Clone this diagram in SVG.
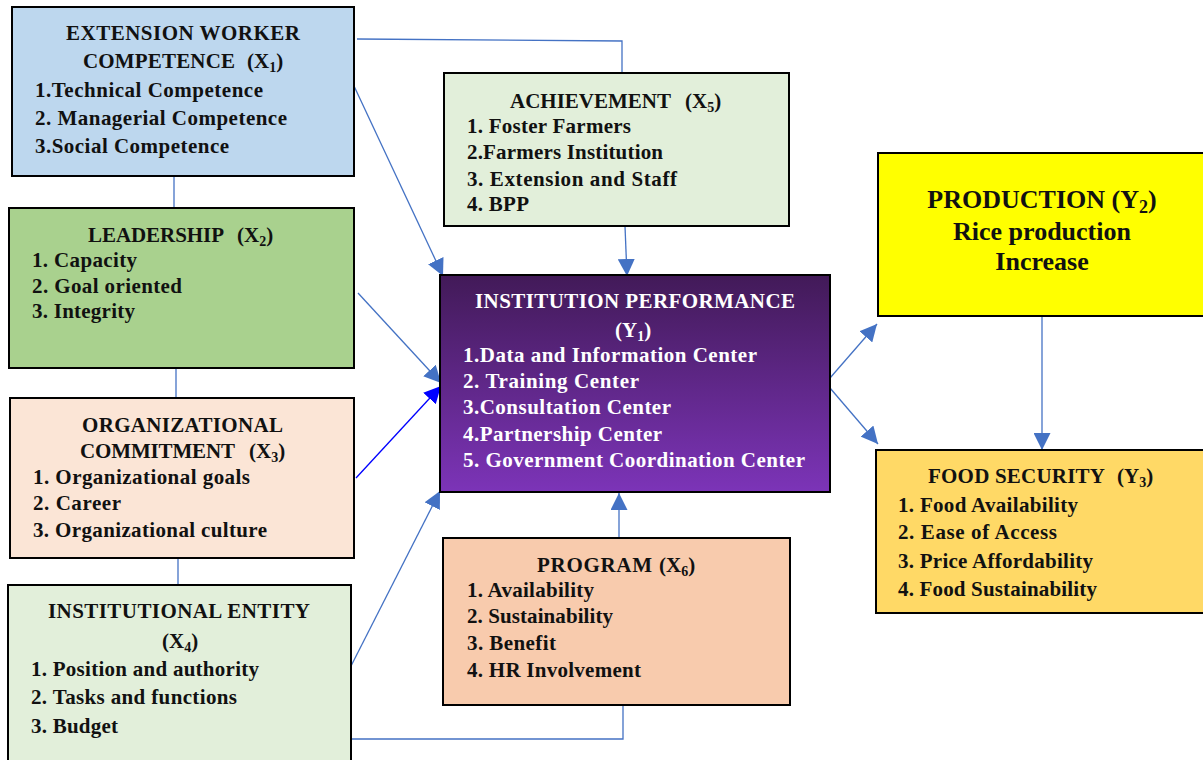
<svg xmlns="http://www.w3.org/2000/svg" width="1203" height="760" viewBox="0 0 1203 760">
<style>
.box{stroke:#000;stroke-width:2}
text{font-family:"Liberation Serif","Times New Roman",serif;font-weight:bold;font-size:21px;fill:#111}
.t{text-anchor:middle}
.w{fill:#fff}
.big{font-size:26px}
.c{fill:none;stroke:#4472C4;stroke-width:1.3}
.cb{fill:none;stroke:#0000FF;stroke-width:1.3}
</style>
<defs>
<marker id="ah2" viewBox="0 0 10 10" refX="10" refY="5" markerWidth="17" markerHeight="17" markerUnits="userSpaceOnUse" orient="auto"><path d="M0,0 L10,5 L0,10 z" fill="#4472C4"/></marker>
<marker id="ahb" viewBox="0 0 10 10" refX="10" refY="5" markerWidth="17" markerHeight="17" markerUnits="userSpaceOnUse" orient="auto"><path d="M0,0 L10,5 L0,10 z" fill="#0000FF"/></marker>
<linearGradient id="pg" x1="0" y1="0" x2="0" y2="1"><stop offset="0" stop-color="#421A58"/><stop offset="1" stop-color="#7C34B8"/></linearGradient>
</defs>
<g id="connectors">
<polyline class="c" points="357,39 622,41 622,73"/>
<line class="c" x1="354" y1="86" x2="443" y2="276" marker-end="url(#ah2)"/>
<line class="c" x1="174" y1="176" x2="174" y2="208"/>
<line class="c" x1="176" y1="368" x2="176" y2="398"/>
<line class="c" x1="178" y1="558" x2="178" y2="585"/>
<line class="c" x1="358" y1="293" x2="441" y2="383" marker-end="url(#ah2)"/>
<line class="cb" x1="356" y1="478" x2="441" y2="386" marker-end="url(#ahb)"/>
<line class="c" x1="350" y1="668" x2="440" y2="491" marker-end="url(#ah2)"/>
<polyline class="c" points="351,739 623,739 623,706"/>
<line class="c" x1="625" y1="226" x2="627" y2="276" marker-end="url(#ah2)"/>
<line class="c" x1="619" y1="538" x2="619" y2="493" marker-end="url(#ah2)"/>
<line class="c" x1="830" y1="378" x2="877" y2="324" marker-end="url(#ah2)"/>
<line class="c" x1="830" y1="388" x2="878" y2="444" marker-end="url(#ah2)"/>
<line class="c" x1="1042" y1="316" x2="1042" y2="450" marker-end="url(#ah2)"/>
</g>
<g id="x1">
<rect class="box" x="12" y="7" width="342" height="169" fill="#BDD7EE"/>
<text x="66" y="40" textLength="234" lengthAdjust="spacing">EXTENSION WORKER</text>
<text x="83" y="68" textLength="152" lengthAdjust="spacing">COMPETENCE</text>
<text x="247" y="68">(X<tspan font-size="14" dy="4">1</tspan><tspan dy="-4">)</tspan></text>
<text x="35" y="97" textLength="228" lengthAdjust="spacing">1.Technical Competence</text>
<text x="35" y="125" textLength="252" lengthAdjust="spacing">2. Managerial Competence</text>
<text x="35" y="153" textLength="194" lengthAdjust="spacing">3.Social Competence</text>
</g>
<g id="x2">
<rect class="box" x="9" y="208" width="345" height="160" fill="#A9D18E"/>
<text x="88" y="242" textLength="136" lengthAdjust="spacing">LEADERSHIP</text>
<text x="237" y="242">(X<tspan font-size="14" dy="4">2</tspan><tspan dy="-4">)</tspan></text>
<text x="32" y="267" textLength="105" lengthAdjust="spacing">1. Capacity</text>
<text x="32" y="293" textLength="150" lengthAdjust="spacing">2. Goal oriented</text>
<text x="32" y="318" textLength="103" lengthAdjust="spacing">3. Integrity</text>
</g>
<g id="x3">
<rect class="box" x="10" y="398" width="344" height="160" fill="#FBE5D6"/>
<text x="82" y="432" textLength="201" lengthAdjust="spacing">ORGANIZATIONAL</text>
<text x="80" y="458" textLength="155" lengthAdjust="spacing">COMMITMENT</text>
<text x="249" y="458">(X<tspan font-size="14" dy="4">3</tspan><tspan dy="-4">)</tspan></text>
<text x="33" y="484" textLength="217" lengthAdjust="spacing">1. Organizational goals</text>
<text x="33" y="510" textLength="88" lengthAdjust="spacing">2. Career</text>
<text x="33" y="537" textLength="234" lengthAdjust="spacing">3. Organizational culture</text>
</g>
<g id="x4">
<rect class="box" x="8" y="585" width="343" height="190" fill="#E2EFDA"/>
<text x="48" y="618" textLength="262" lengthAdjust="spacing">INSTITUTIONAL ENTITY</text>
<text x="162" y="648">(X<tspan font-size="14" dy="4">4</tspan><tspan dy="-4">)</tspan></text>
<text x="31" y="676" textLength="228" lengthAdjust="spacing">1. Position and authority</text>
<text x="31" y="704" textLength="206" lengthAdjust="spacing">2. Tasks and functions</text>
<text x="31" y="733" textLength="87" lengthAdjust="spacing">3. Budget</text>
</g>
<g id="x5">
<rect class="box" x="444" y="73" width="345" height="153" fill="#E2EFDA"/>
<text x="510" y="108" textLength="161" lengthAdjust="spacing">ACHIEVEMENT</text>
<text x="685" y="108">(X<tspan font-size="14" dy="4">5</tspan><tspan dy="-4">)</tspan></text>
<text x="467" y="133" textLength="164" lengthAdjust="spacing">1. Foster Farmers</text>
<text x="467" y="159" textLength="196" lengthAdjust="spacing">2.Farmers Institution</text>
<text x="467" y="186" textLength="210" lengthAdjust="spacing">3. Extension and Staff</text>
<text x="467" y="211" textLength="62" lengthAdjust="spacing">4. BPP</text>
</g>
<g id="y1">
<rect class="box" x="440" y="275" width="390" height="217" fill="url(#pg)"/>
<text class="w" x="475" y="308" textLength="320" lengthAdjust="spacing">INSTITUTION PERFORMANCE</text>
<text class="w" x="615" y="337">(Y<tspan font-size="14" dy="4">1</tspan><tspan dy="-4">)</tspan></text>
<text class="w" x="463" y="362" textLength="294" lengthAdjust="spacing">1.Data and Information Center</text>
<text class="w" x="463" y="388" textLength="176" lengthAdjust="spacing">2. Training Center</text>
<text class="w" x="463" y="414" textLength="208" lengthAdjust="spacing">3.Consultation Center</text>
<text class="w" x="463" y="441" textLength="199" lengthAdjust="spacing">4.Partnership Center</text>
<text class="w" x="463" y="467" textLength="342" lengthAdjust="spacing">5. Government Coordination Center</text>
</g>
<g id="x6">
<rect class="box" x="443" y="538" width="347" height="167" fill="#F8CBAD"/>
<text x="537" y="572" textLength="115" lengthAdjust="spacing">PROGRAM</text>
<text x="659" y="572">(X<tspan font-size="14" dy="4">6</tspan><tspan dy="-4">)</tspan></text>
<text x="467" y="597" textLength="127" lengthAdjust="spacing">1. Availability</text>
<text x="467" y="623" textLength="146" lengthAdjust="spacing">2. Sustainability</text>
<text x="467" y="650" textLength="89" lengthAdjust="spacing">3. Benefit</text>
<text x="467" y="677" textLength="174" lengthAdjust="spacing">4. HR Involvement</text>
</g>
<g id="y2">
<rect class="box" x="878" y="153" width="340" height="163" fill="#FFFF00"/>
<text class="t big" x="1042" y="208">PRODUCTION (Y<tspan font-size="18" dy="5">2</tspan><tspan dy="-5">)</tspan></text>
<text class="t big" x="1042" y="240">Rice production</text>
<text class="t big" x="1042" y="270">Increase</text>
</g>
<g id="y3">
<rect class="box" x="876" y="450" width="340" height="163" fill="#FFD966"/>
<text x="928" y="483" textLength="177" lengthAdjust="spacing">FOOD SECURITY</text>
<text x="1117" y="483">(Y<tspan font-size="14" dy="4">3</tspan><tspan dy="-4">)</tspan></text>
<text x="898" y="512" textLength="180" lengthAdjust="spacing">1. Food Availability</text>
<text x="898" y="539" textLength="159" lengthAdjust="spacing">2. Ease of Access</text>
<text x="898" y="568" textLength="195" lengthAdjust="spacing">3. Price Affordability</text>
<text x="898" y="596" textLength="199" lengthAdjust="spacing">4. Food Sustainability</text>
</g>
</svg>
